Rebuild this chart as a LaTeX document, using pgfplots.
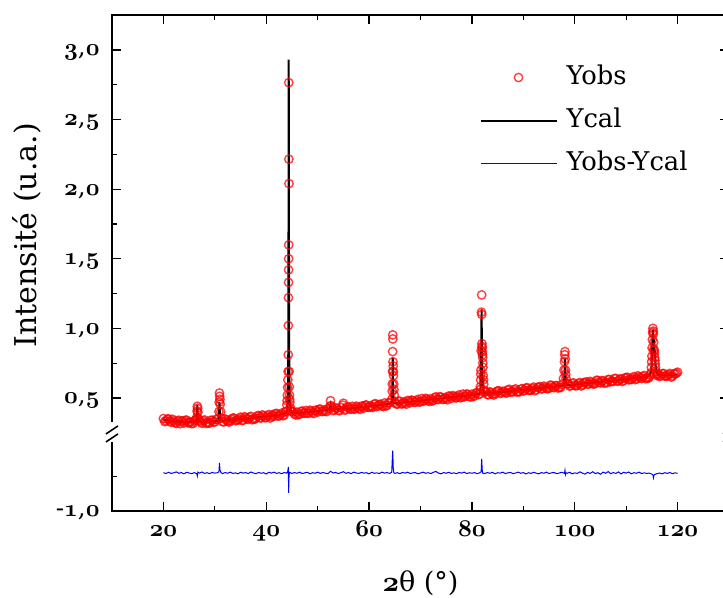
\documentclass[border=0pt]{standalone}
\usepackage{fontspec}
\setmainfont{DejaVu Serif}
\usepackage{pgfplots}
\pgfplotsset{compat=1.18}
\newcommand\os[1]{{\usefont{OML}{cmm}{b}{it}#1}}
\begin{document}
\begin{tikzpicture}
\begin{axis}[
  scale only axis, width=308.5pt, height=248pt,
  xmin=10, xmax=130, ymin=-0.312, ymax=3.251,
  axis line style={line width=1pt},
  tick style={line width=0.6pt, black},
  tick align=inside,
  major tick length=4.5pt, minor tick length=2.5pt,
  xtick={20,40,60,80,100,120},
  xticklabels={\os{20},\os{40},\os{60},\os{80},\os{100},\os{120}},
  minor xtick={30,50,70,90,110},
  ytick={-0.312,0.5,1,1.5,2,2.5,3},
  yticklabels={{-\os{1},\os{0}},{\os{0},\os{5}},{\os{1},\os{0}},{\os{1},\os{5}},{\os{2},\os{0}},{\os{2},\os{5}},{\os{3},\os{0}}},
  minor ytick={-0.062,0.75,1.25,1.75,2.25,2.75},
  tick label style={font=\fontsize{12.3}{14}\selectfont},
  xticklabel style={anchor=base, yshift=-13pt},
  yticklabel style={anchor=base east, inner sep=0pt, xshift=-6pt, yshift=-3pt},
  xlabel={\os{2}θ (°)},
  ylabel={Intensité (u.a.)},
  xlabel style={font=\fontsize{13.5}{15}\selectfont, at={(axis description cs:0.5,-0.145)}, anchor=center},
  ylabel style={font=\fontsize{15}{17}\selectfont, at={(axis description cs:-0.138,0.556)}, anchor=center},
  legend style={draw=none, fill=none, at={(axis description cs:0.595,0.907)}, anchor=north west,
    font=\fontsize{12.9}{15}\selectfont, inner sep=0pt, row sep=5.5pt, column sep=2.5pt,
    nodes={inner sep=2pt, text height=9.5pt, text depth=2.5pt}},
  legend cell align=left,
  legend image code/.code={\draw[mark repeat=2,mark phase=2,#1] plot coordinates {(0pt,0pt) (19pt,0pt) (38pt,0pt)};},
]
% Yobs
\addplot[only marks, mark=o, red, mark size=2.1pt, mark options={draw opacity=0.75, line width=0.7pt}] coordinates {
(20,0.352)(20.5,0.335)(21,0.350)(21.5,0.325)(22,0.335)(22.5,0.317)(23,0.340)(23.5,0.333)(24,0.320)(24.5,0.341)(25,0.324)(25.5,0.316)(26,0.334)
(26.4,0.345)(26.5,0.362)(26.55,0.405)(26.6,0.440)(26.65,0.425)(26.7,0.398)(26.8,0.350)
(27,0.337)(27.5,0.318)(28,0.342)(28.5,0.325)(29,0.320)(29.5,0.339)(30,0.327)(30.5,0.346)
(30.8,0.402)(30.85,0.470)(30.9,0.535)(30.95,0.512)(31.0,0.490)(31.05,0.455)(31.15,0.400)(31.25,0.355)
(31.5,0.330)(32,0.349)(32.5,0.333)(33,0.336)(33.5,0.355)(34,0.337)(34.5,0.343)(35,0.362)(35.5,0.340)(36,0.358)(36.5,0.346)(37,0.368)(37.5,0.349)(38,0.355)(38.5,0.374)(39,0.356)(39.5,0.371)(40,0.360)
(40.5,0.381)(41,0.366)(41.5,0.368)(42,0.389)(42.5,0.370)(43,0.391)(43.5,0.378)
(43.9,0.405)(44.0,0.450)(44.05,0.480)(44.1,0.520)(44.15,0.575)(44.2,0.630)(44.25,0.690)(44.28,0.810)(44.3,1.020)(44.32,1.220)(44.34,1.330)(44.35,1.420)(44.36,1.500)(44.37,1.600)(44.38,2.765)(44.40,2.215)(44.42,2.040)(44.45,0.690)(44.48,0.580)(44.52,0.520)(44.56,0.490)(44.6,0.470)(44.7,0.430)(44.8,0.410)
(45,0.402)(45.5,0.385)(46,0.398)(46.5,0.384)(47,0.406)(47.5,0.390)(48,0.391)(48.5,0.412)(49,0.395)(49.5,0.410)(50,0.399)(50.5,0.420)(51,0.403)(51.5,0.405)(52,0.424)
(52.4,0.440)(52.5,0.480)(52.6,0.445)(53,0.409)(53.5,0.428)(54,0.412)(54.5,0.432)(54.9,0.448)(55,0.462)(55.5,0.418)(56,0.436)(56.5,0.419)(57,0.421)(57.5,0.441)(58,0.425)(58.5,0.440)(59,0.428)(59.5,0.449)(60,0.433)
(60.5,0.435)(61,0.455)(61.5,0.438)(62,0.453)(62.5,0.442)(63,0.464)(63.5,0.447)(64,0.466)
(64.4,0.490)(64.5,0.550)(64.52,0.600)(64.55,0.690)(64.58,0.833)(64.6,0.953)(64.62,0.924)(64.65,0.760)(64.7,0.730)(64.72,0.690)(64.75,0.660)(64.8,0.600)(64.85,0.560)(64.9,0.520)
(65,0.470)(65.5,0.455)(66,0.476)(66.5,0.459)(67,0.462)(67.5,0.482)(68,0.466)(68.5,0.480)(69,0.469)(69.5,0.490)(70,0.474)
(70.5,0.476)(71,0.497)(71.5,0.480)(72,0.494)(72.5,0.483)(73,0.508)(73.5,0.489)(74,0.505)(74.5,0.492)(75,0.494)(75.5,0.514)(76,0.497)(76.5,0.512)(77,0.501)(77.5,0.522)(78,0.506)(78.5,0.508)(79,0.529)(79.5,0.511)(80,0.527)
(80.5,0.516)(81,0.539)(81.5,0.528)
(81.6,0.560)(81.65,0.580)(81.7,0.630)(81.72,0.670)(81.75,0.700)(81.8,0.840)(81.85,1.116)(81.9,1.240)(81.92,1.100)(81.95,0.890)(81.97,0.870)(82.0,0.860)(82.02,0.830)(82.05,0.810)(82.1,0.790)(82.12,0.750)(82.15,0.720)(82.2,0.660)(82.25,0.630)(82.3,0.600)(82.4,0.555)
(82.5,0.542)(83,0.524)(83.5,0.544)(84,0.528)(84.5,0.530)(85,0.551)(85.5,0.533)(86,0.548)(86.5,0.537)(87,0.558)(87.5,0.541)(88,0.544)(88.5,0.565)(89,0.547)(89.5,0.562)(90,0.550)
(90.5,0.571)(91,0.555)(91.5,0.557)(92,0.578)(92.5,0.560)(93,0.575)(93.5,0.564)(94,0.585)(94.5,0.568)(95,0.571)(95.5,0.590)(96,0.574)(96.5,0.588)(97,0.577)(97.5,0.598)
(97.8,0.640)(97.9,0.700)(98.0,0.760)(98.05,0.810)(98.1,0.833)(98.15,0.780)(98.2,0.700)(98.25,0.670)(98.3,0.640)
(98.5,0.602)(99,0.585)(99.5,0.604)(100,0.588)(100.5,0.590)(101,0.611)(101.5,0.594)(102,0.609)(102.5,0.598)(103,0.619)(103.5,0.602)(104,0.605)(104.5,0.626)(105,0.608)(105.5,0.623)(106,0.612)(106.5,0.633)(107,0.617)(107.5,0.619)(108,0.640)(108.5,0.622)(109,0.637)(109.5,0.626)(110,0.647)
(110.5,0.630)(111,0.633)(111.5,0.653)(112,0.636)(112.5,0.651)(113,0.640)(113.5,0.661)(114,0.644)(114.5,0.650)
(114.7,0.665)(114.8,0.680)(114.9,0.720)(114.95,0.760)(115.0,0.800)(115.05,0.860)(115.1,0.920)(115.15,0.970)(115.2,1.000)(115.25,0.980)(115.3,0.960)(115.35,0.900)(115.4,0.850)(115.45,0.840)(115.5,0.820)(115.55,0.790)(115.6,0.770)(115.65,0.745)(115.7,0.720)(115.8,0.690)(115.9,0.675)(116.1,0.660)
(116,0.670)(116.5,0.655)(117,0.674)(117.5,0.657)(118,0.660)(118.5,0.676)(119,0.658)(119.5,0.672)(120,0.685)
(20.25,0.330)(20.75,0.348)(21.25,0.333)(21.75,0.347)(22.25,0.323)(22.75,0.334)(23.25,0.315)(23.75,0.336)(24.25,0.339)(24.75,0.321)(25.25,0.328)(25.75,0.317)(26.25,0.342)
(27.25,0.327)(27.75,0.336)(28.25,0.317)(28.75,0.319)(29.25,0.340)(29.75,0.328)(30.25,0.347)(31.75,0.328)(32.25,0.342)(32.75,0.326)(33.25,0.349)(33.75,0.355)(34.25,0.340)(34.75,0.349)
(35.25,0.338)(35.75,0.365)(36.25,0.351)(36.75,0.361)(37.25,0.344)(37.75,0.347)(38.25,0.370)(38.75,0.359)(39.25,0.378)(39.75,0.358)(40.25,0.372)(40.75,0.356)(41.25,0.380)(41.75,0.386)
(42.25,0.371)(42.75,0.381)(43.25,0.372)(43.75,0.401)(44.75,0.408)(45.25,0.400)(45.75,0.378)(46.25,0.379)(46.75,0.402)(47.25,0.391)(47.75,0.410)(48.25,0.390)(48.75,0.404)(49.25,0.388)
(49.75,0.412)(50.25,0.418)(50.75,0.403)(51.25,0.412)(51.75,0.402)(52.75,0.430)(53.25,0.415)(53.75,0.425)(54.25,0.408)(55.25,0.412)(55.75,0.433)(56.25,0.421)(56.75,0.440)(57.25,0.420)
(57.75,0.434)(58.25,0.418)(58.75,0.442)(59.25,0.448)(59.75,0.433)(60.25,0.442)(60.75,0.432)(61.25,0.459)(61.75,0.445)(62.25,0.455)(62.75,0.438)(63.25,0.442)(63.75,0.465)
(65.25,0.458)(65.75,0.477)(66.25,0.457)(66.75,0.471)(67.25,0.455)(67.75,0.479)(68.25,0.485)(68.75,0.470)(69.25,0.479)(69.75,0.469)(70.25,0.496)(70.75,0.482)(71.25,0.492)(71.75,0.475)
(72.25,0.478)(72.75,0.501)(73.25,0.490)(73.75,0.509)(74.25,0.489)(74.75,0.503)(75.25,0.487)(75.75,0.511)(76.25,0.517)(76.75,0.502)(77.25,0.511)(77.75,0.501)(78.25,0.528)(78.75,0.514)
(79.25,0.524)(79.75,0.507)(80.25,0.510)(80.75,0.534)(81.25,0.524)(82.75,0.545)(83.25,0.523)(83.75,0.537)(84.25,0.521)(84.75,0.545)(85.25,0.551)(85.75,0.536)(86.25,0.545)(86.75,0.535)
(87.25,0.562)(87.75,0.548)(88.25,0.558)(88.75,0.541)(89.25,0.544)(89.75,0.567)(90.25,0.555)(90.75,0.574)(91.25,0.554)(91.75,0.568)(92.25,0.552)(92.75,0.576)(93.25,0.582)(93.75,0.567)
(94.25,0.576)(94.75,0.566)(95.25,0.592)(95.75,0.578)(96.25,0.588)(96.75,0.571)(97.25,0.575)(98.75,0.602)(99.25,0.589)(99.75,0.608)(100.25,0.588)(100.75,0.602)(101.25,0.586)(101.75,0.610)
(102.25,0.616)(102.75,0.601)(103.25,0.610)(103.75,0.600)(104.25,0.627)(104.75,0.613)(105.25,0.623)(105.75,0.606)(106.25,0.609)(106.75,0.632)(107.25,0.621)(107.75,0.640)(108.25,0.620)
(108.75,0.634)(109.25,0.618)(109.75,0.642)(110.25,0.648)(110.75,0.633)(111.25,0.642)(111.75,0.632)(112.25,0.659)(112.75,0.645)(113.25,0.655)(113.75,0.638)(114.25,0.641)
(116.25,0.671)(116.75,0.659)(117.25,0.676)(117.75,0.655)(118.25,0.667)(118.75,0.650)(119.25,0.673)(119.75,0.678)
};
% Ycal
\addplot[black, line width=1pt, no marks] coordinates {
(20,0.345)(21,0.338)(22,0.333)(23,0.330)(24,0.328)(25,0.327)(26,0.328)(26.45,0.332)(26.6,0.45)(26.75,0.333)(27,0.329)(28,0.330)(29,0.331)(30,0.333)(30.75,0.336)(30.9,0.47)(31.05,0.338)(32,0.338)(34,0.345)(36,0.352)(38,0.36)(40,0.368)(42,0.376)(43.5,0.385)(44.0,0.40)(44.2,0.48)(44.3,0.90)(44.37,2.93)(44.45,0.90)(44.55,0.48)(44.8,0.40)(45,0.395)(46,0.39)(48,0.398)(50,0.406)(52,0.414)(52.35,0.416)(52.5,0.445)(52.65,0.416)(54,0.42)(54.85,0.424)(55,0.44)(55.15,0.424)(56,0.424)(58,0.432)(60,0.44)(62,0.448)(64,0.458)(64.45,0.475)(64.55,0.60)(64.6,0.79)(64.65,0.60)(64.75,0.475)(65,0.462)(66,0.465)(68,0.473)(70,0.481)(72,0.489)(73,0.493)(74,0.497)(76,0.505)(78,0.513)(80,0.521)(81.5,0.530)(81.7,0.58)(81.8,0.80)(81.88,1.137)(81.95,0.85)(82.05,0.65)(82.2,0.56)(82.4,0.535)(83,0.531)(84,0.535)(86,0.543)(88,0.551)(90,0.558)(92,0.566)(94,0.574)(96,0.581)(97.8,0.590)(98.0,0.65)(98.1,0.785)(98.2,0.65)(98.4,0.595)(99,0.592)(100,0.596)(102,0.604)(104,0.612)(106,0.62)(108,0.628)(110,0.636)(112,0.644)(114,0.652)(114.6,0.662)(114.9,0.70)(115.1,0.90)(115.2,0.99)(115.3,0.86)(115.4,0.92)(115.5,0.80)(115.6,0.84)(115.7,0.74)(115.85,0.70)(116.1,0.672)(116.4,0.664)(118,0.664)(120,0.668)
};
% Yobs-Ycal (lower segment of the broken axis, shifted by +0.688)
\addplot[blue, line width=0.5pt, no marks, y filter/.expression={y+0.688}] coordinates {
(20,-0.725)(20.5,-0.731)(21,-0.722)(21.5,-0.730)(22,-0.726)(22.5,-0.719)(23,-0.729)(23.5,-0.724)(24,-0.733)(24.5,-0.722)(25,-0.727)(25.5,-0.732)(26,-0.724)(26.5,-0.733)(26.6,-0.748)(26.7,-0.721)(27,-0.728)(27.5,-0.720)(28,-0.730)(28.5,-0.725)(29,-0.732)(29.5,-0.723)(30,-0.728)(30.5,-0.725)(30.8,-0.718)(30.9,-0.655)(31.0,-0.705)(31.2,-0.724)(31.5,-0.731)(32,-0.724)(32.5,-0.729)(33,-0.721)(33.5,-0.730)(34,-0.726)(34.5,-0.733)(35,-0.722)(35.5,-0.728)(36,-0.724)(36.5,-0.731)(37,-0.720)(37.5,-0.727)(38,-0.732)(38.5,-0.723)(39,-0.729)(39.5,-0.725)(40,-0.734)
(40.5,-0.722)(41,-0.728)(41.5,-0.721)(42,-0.730)(42.5,-0.725)(43,-0.732)(43.5,-0.724)(44.0,-0.728)(44.2,-0.715)(44.3,-0.684)(44.35,-0.870)(44.42,-0.760)(44.5,-0.722)(45,-0.730)(45.5,-0.724)(46,-0.729)(46.5,-0.721)(47,-0.731)(47.5,-0.726)(48,-0.722)(48.5,-0.733)(49,-0.725)(49.5,-0.729)(50,-0.721)(50.5,-0.730)(51,-0.724)(51.5,-0.728)(52,-0.732)(52.5,-0.715)(53,-0.727)(53.5,-0.723)(54,-0.731)(54.5,-0.725)(55,-0.718)(55.5,-0.729)(56,-0.724)(56.5,-0.732)(57,-0.721)(57.5,-0.727)(58,-0.730)(58.5,-0.723)(59,-0.728)(59.5,-0.725)(60,-0.733)
(60.5,-0.722)(61,-0.729)(61.5,-0.726)(62,-0.731)(62.5,-0.721)(63,-0.728)(63.5,-0.724)(64,-0.730)(64.4,-0.722)(64.55,-0.600)(64.6,-0.567)(64.7,-0.690)(64.8,-0.724)(65,-0.730)(65.5,-0.725)(66,-0.732)(66.5,-0.723)(67,-0.728)(67.5,-0.721)(68,-0.731)(68.5,-0.726)(69,-0.724)(69.5,-0.733)(70,-0.727)(70.5,-0.721)(71,-0.729)(71.5,-0.725)(72,-0.731)(72.5,-0.722)(73,-0.716)(73.5,-0.728)(74,-0.733)(74.5,-0.724)(75,-0.729)(75.5,-0.722)(76,-0.730)(76.5,-0.726)(77,-0.732)(77.5,-0.723)(78,-0.728)(78.5,-0.721)(79,-0.731)(79.5,-0.725)(80,-0.729)
(80.5,-0.724)(81,-0.732)(81.5,-0.726)(81.8,-0.718)(81.9,-0.625)(82.0,-0.702)(82.1,-0.728)(82.5,-0.731)(83,-0.724)(83.5,-0.729)(84,-0.722)(84.5,-0.733)(85,-0.725)(85.5,-0.728)(86,-0.721)(86.5,-0.731)(87,-0.726)(87.5,-0.723)(88,-0.732)(88.5,-0.727)(89,-0.721)(89.5,-0.729)(90,-0.724)(90.5,-0.734)(91,-0.725)(91.5,-0.730)(92,-0.722)(92.5,-0.728)(93,-0.733)(93.5,-0.724)(94,-0.729)(94.5,-0.721)(95,-0.731)(95.5,-0.726)(96,-0.723)(96.5,-0.732)(97,-0.727)(97.5,-0.722)(98.0,-0.730)(98.1,-0.708)(98.2,-0.738)(98.3,-0.725)(98.5,-0.729)(99,-0.722)(99.5,-0.733)(100,-0.726)
(100.5,-0.730)(101,-0.719)(101.5,-0.728)(102,-0.735)(102.5,-0.723)(103,-0.730)(103.5,-0.718)(104,-0.731)(104.5,-0.725)(105,-0.736)(105.5,-0.721)(106,-0.729)(106.5,-0.717)(107,-0.732)(107.5,-0.724)(108,-0.730)(108.5,-0.719)(109,-0.734)(109.5,-0.722)(110,-0.728)(110.5,-0.720)(111,-0.733)(111.5,-0.725)(112,-0.729)(112.5,-0.721)(113,-0.731)(113.5,-0.726)(114,-0.730)(114.5,-0.728)(115,-0.735)(115.2,-0.740)(115.3,-0.762)(115.4,-0.745)(115.5,-0.738)(116,-0.732)(116.5,-0.727)(117,-0.733)(117.5,-0.725)(118,-0.730)(118.5,-0.724)(119,-0.732)(119.5,-0.726)(120,-0.729)
};
\legend{Yobs, Ycal, Yobs-Ycal}
\coordinate (brkL) at (axis cs:10,0.256);
\coordinate (brkR) at (axis cs:130,0.256);
\end{axis}
% axis break marks
\foreach \c in {brkL,brkR}{
  \fill[white] ([xshift=-1pt,yshift=-5pt]\c) rectangle ([xshift=1pt,yshift=5pt]\c);
  \draw[line width=0.8pt] ([xshift=-3pt,yshift=-5pt]\c) -- ++(6pt,4pt);
  \draw[line width=0.8pt] ([xshift=-3pt,yshift=-1pt]\c) -- ++(6pt,4pt);
}
\pgfresetboundingbox
\useasboundingbox (-56pt,-43.5pt) rectangle (305.5pt,255.5pt);
\end{tikzpicture}
\end{document}
